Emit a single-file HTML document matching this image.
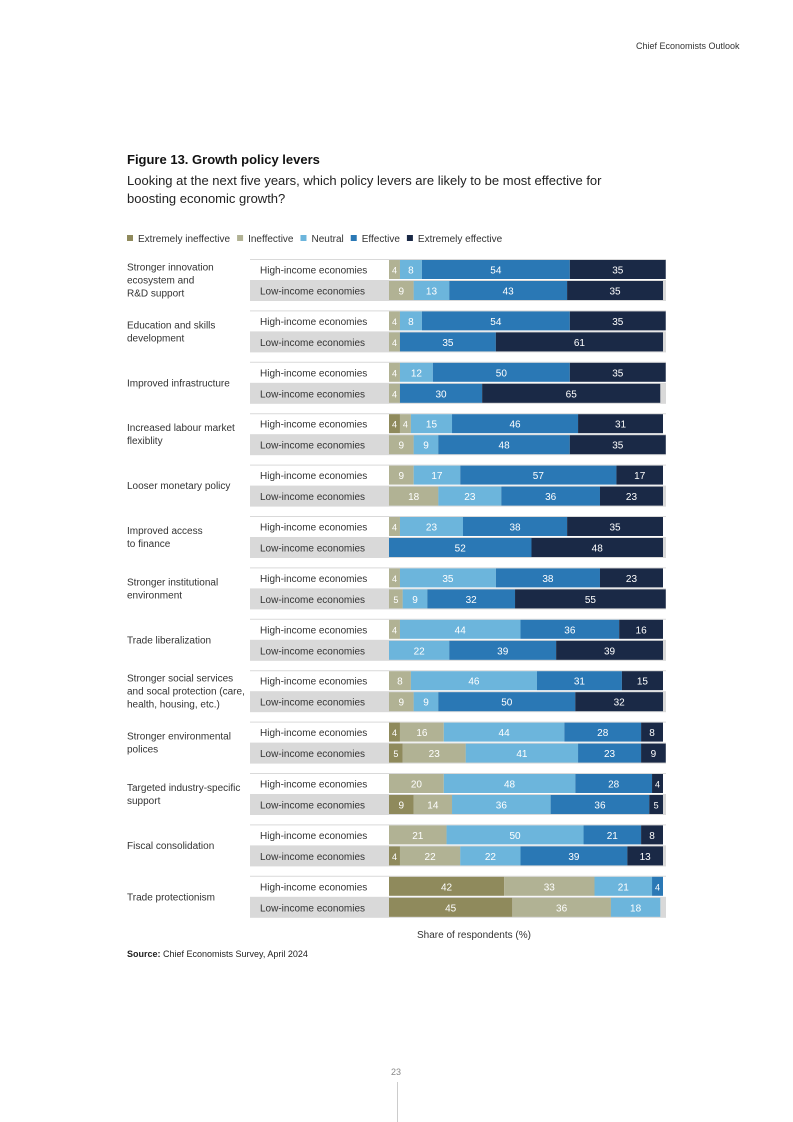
<!DOCTYPE html>
<html><head><meta charset="utf-8"><style>
body{margin:0;background:#fff;font-family:"Liberation Sans",sans-serif;color:#222}
#page{position:relative;width:793px;height:1122px;overflow:hidden}
.t{position:absolute;white-space:nowrap}
</style></head><body>
<div id="page">
<div class="t" style="left:636px;top:41px;font-size:9px;color:#333">Chief Economists Outlook</div>
<div class="t" style="left:127px;top:152px;font-size:13px;font-weight:bold;color:#111">Figure 13. Growth policy levers</div>
<div class="t" style="left:127px;top:172px;font-size:13px;line-height:18px;color:#222;white-space:normal;width:480px">Looking at the next five years, which policy levers are likely to be most effective for boosting economic growth?</div>
<svg id="chart" width="793" height="1122" style="position:absolute;left:0;top:0"></svg>
<div class="t" style="left:127px;top:949px;font-size:9px;color:#222"><b>Source:</b> Chief Economists Survey, April 2024</div>
<div class="t" style="left:391px;top:1067px;font-size:9px;color:#888">23</div>
<div style="position:absolute;left:397px;top:1082px;width:1px;height:40px;background:#ccc"></div>
</div>
<script>
const levers=["Stronger innovation\necosystem and\nR&D support","Education and skills\ndevelopment","Improved infrastructure","Increased labour market\nflexiblity","Looser monetary policy","Improved access\nto finance","Stronger institutional\nenvironment","Trade liberalization","Stronger social services\nand socal protection (care,\nhealth, housing, etc.)","Stronger environmental\npolices","Targeted industry-specific\nsupport","Fiscal consolidation","Trade protectionism"];
const seriesNames=["Extremely ineffective","Ineffective","Neutral","Effective","Extremely effective"];
const highIncome=[[0,4,8,54,35],[0,4,8,54,35],[0,4,12,50,35],[4,4,15,46,31],[0,9,17,57,17],[0,4,23,38,35],[0,4,35,38,23],[0,4,44,36,16],[0,8,46,31,15],[4,16,44,28,8],[0,20,48,28,4],[0,21,50,21,8],[42,33,21,4,0]];
const lowIncome=[[0,9,13,43,35],[0,4,0,35,61],[0,4,0,30,65],[0,9,9,48,35],[0,18,23,36,23],[0,0,0,52,48],[0,5,9,32,55],[0,0,22,39,39],[0,9,9,50,32],[5,23,41,23,9],[9,14,36,36,5],[4,22,22,39,13],[45,36,18,0,0]];
const colors=["#8f8a5c","#b1b294","#6cb5dc","#2a78b5","#1a2946"];
const textColors=["#fff","#fff","#fff","#fff","#fff"];
const svg=document.getElementById('chart');const NS="http://www.w3.org/2000/svg";
function mk(t,a,p){const e=document.createElementNS(NS,t);for(const k in a)e.setAttribute(k,a[k]);(p||svg).appendChild(e);return e;}
const x0=389,unit=2.74;const xs=v=>x0+v*unit;
const groupY=i=>259+i*51.4;
// legend
let lx=127;
seriesNames.forEach((n,i)=>{const r=mk('rect',{x:lx,y:235,width:6,height:6,fill:colors[i]});


const t=mk('text',{x:lx+11,y:242,'font-size':10,fill:'#333'});t.textContent=n;


lx+=11+t.getComputedTextLength()+7;});
levers.forEach((lab,i)=>{const gy=groupY(i);
const lines=lab.split("\n");const ly=gy+21-(lines.length-1)*6.5+3.5;
lines.forEach((l,j)=>{const t=mk('text',{x:127,y:ly+j*13,'font-size':10,fill:'#333'});t.textContent=l;

});
[[highIncome[i],"High-income economies","#fff"],[lowIncome[i],"Low-income economies","#d9d9d9"]].forEach(([vals,name,bg],r)=>{
const ry=gy+r*21;
const b=mk('rect',{x:250,y:ry,width:416,height:21,fill:bg});


if(r==0){const ln=mk('line',{x1:250,x2:666,y1:ry+0.5,y2:ry+0.5,stroke:'#d9d9d9'});}
const t=mk('text',{x:260,y:ry+14.5,'font-size':10,fill:'#333'});t.textContent=name;


let c=0;vals.forEach((v,k)=>{if(!v)return;
const s=mk('rect',{x:xs(c),y:ry+1,width:v*unit,height:19,fill:colors[k]});


const tx=mk('text',{x:xs(c+v/2),y:ry+14.5,'font-size':v<6?9:10,fill:textColors[k],'text-anchor':'middle'});tx.textContent=v;


c+=v;});
});});
const at=mk('text',{x:474,y:938,'font-size':10,fill:'#333','text-anchor':'middle'});at.textContent="Share of respondents (%)";


</script>
</body></html>
